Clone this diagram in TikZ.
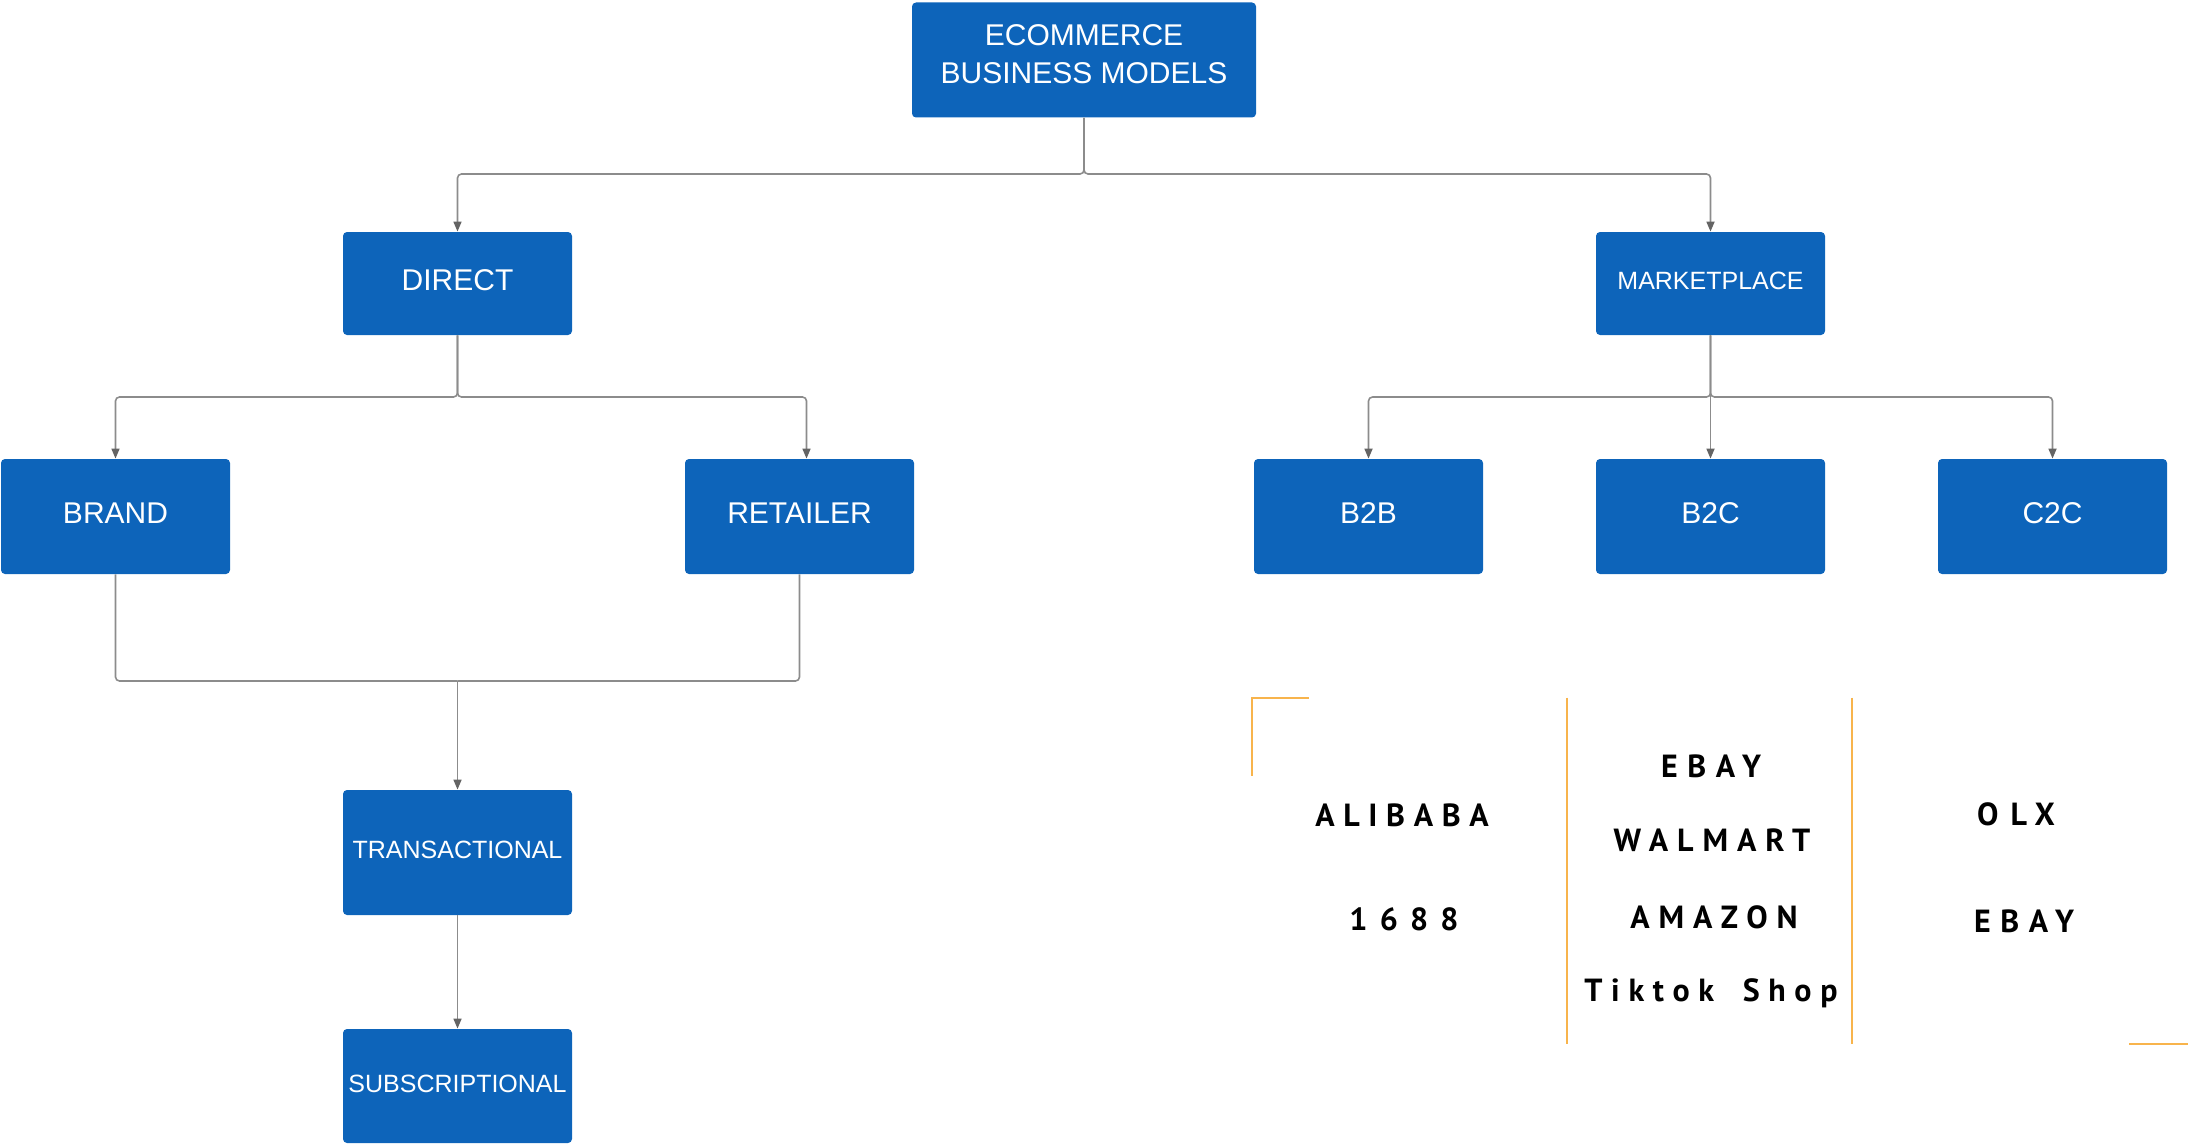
\documentclass[tikz,border=0pt]{standalone}
\usepackage{fontspec}
\setmainfont{Liberation Sans}
\newfontfamily\brandfont{PT Sans}
\usetikzlibrary{arrows.meta}
\definecolor{boxblue}{RGB}{13,100,186}
\definecolor{connGray}{RGB}{140,140,140}
\definecolor{tipGray}{RGB}{100,100,100}
\definecolor{lineOrange}{RGB}{248,180,76}
\newcommand{\ls}[2]{{\addfontfeature{LetterSpace=#1}#2}}
\tikzset{
  bluebox/.style={draw=none, fill=boxblue, rounded corners=2pt, text=white, inner sep=0pt,
    minimum width=114.5pt, align=center},
  bigtxt/.style={font=\fontsize{15}{19}\selectfont, text depth=3pt},
  smalltxt/.style={font=\fontsize{12.5}{15}\selectfont, text depth=2.6pt},
  conn/.style={draw=connGray, line width=0.8pt, rounded corners=2pt},
  arr/.style={-{Triangle[length=5pt,width=4pt,fill=tipGray,color=tipGray]}},
  orangeline/.style={draw=lineOrange, line width=1pt},
  brandtxt/.style={anchor=base, font=\brandfont\bfseries\fontsize{16}{19}\selectfont, text=black, inner sep=0pt}
}
\begin{document}
\begin{tikzpicture}[x=0.5pt, y=-0.5pt]
\useasboundingbox (0,0) rectangle (2188,1145);
% boxes
\node[bluebox, bigtxt, text depth=5.5pt, minimum width=172pt, minimum height=57.5pt] (top) at (1084,60) {ECOMMERCE\\BUSINESS MODELS};
\node[bluebox, bigtxt, minimum height=51.5pt] (direct) at (457.5,283.5) {DIRECT};
\node[bluebox, smalltxt, minimum height=51.5pt] (market) at (1710.5,283.5) {MARKETPLACE};
\node[bluebox, bigtxt, minimum height=57.5pt] (brand) at (115.5,516.5) {BRAND};
\node[bluebox, bigtxt, minimum height=57.5pt] (retailer) at (799.5,516.5) {RETAILER};
\node[bluebox, bigtxt, minimum height=57.5pt] (b2b) at (1368.5,516.5) {B2B};
\node[bluebox, bigtxt, minimum height=57.5pt] (b2c) at (1710.5,516.5) {B2C};
\node[bluebox, bigtxt, minimum height=57.5pt] (c2c) at (2052.5,516.5) {C2C};
\node[bluebox, smalltxt, minimum height=62.5pt] (trans) at (457.5,852.5) {TRANSACTIONAL};
\node[bluebox, smalltxt, minimum height=57pt] (subs) at (457.5,1086) {SUBSCRIPTIONAL};
% junction coordinates
\coordinate (j1) at (1084,174);
\coordinate (j2) at (457.5,397);
\coordinate (j3) at (1710.5,397);
\coordinate (j4) at (457.5,681);
% connectors
\draw[conn, arr] (top.south) -- (j1) -| (direct.north);
\draw[conn, arr] (top.south) -- (j1) -| (market.north);
\draw[conn, arr] (direct.south) -- (j2) -| (brand.north);
\draw[conn, arr] (direct.south) -- (j2) -| ([xshift=3.5pt]retailer.north);
\draw[conn, arr] (market.south) -- (j3) -| (b2b.north);
\draw[conn, arr] (market.south) -- (b2c.north);
\draw[conn, arr] (market.south) -- (j3) -| (c2c.north);
\draw[conn] (brand.south) |- (j4);
\draw[conn] (retailer.south) |- (j4);
\draw[conn, arr] (j4) -- (trans.north);
\draw[conn, arr] (trans.south) -- (subs.north);
% orange lines
\coordinate (o1) at (1309,697.7);
\coordinate (o2) at (1251.7,697.7);
\coordinate (o3) at (1251.7,775.8);
\draw[orangeline] (o1) -- (o2) -- (o3);
\coordinate (v1a) at (1567,697.7);
\coordinate (v1b) at (1567,1044);
\draw[orangeline] (v1a) -- (v1b);
\coordinate (v2a) at (1852,697.7);
\coordinate (v2b) at (1852,1044);
\draw[orangeline] (v2a) -- (v2b);
\coordinate (h1a) at (2129,1044);
\coordinate (h1b) at (2188,1044);
\draw[orangeline] (h1a) -- (h1b);
% brand texts
\node[brandtxt] (alibaba) at (1402,826) {\ls{27}{ALIBABA}};
\node[brandtxt] (n1688) at (1404,930) {\ls{38}{1688}};
\node[brandtxt] (ebay1) at (1711,777) {\ls{30}{EBAY}};
\node[brandtxt] (walmart) at (1712,851) {\ls{28}{WALMART}};
\node[brandtxt] (amazon) at (1714,928) {\ls{28}{AMAZON}};
\node[brandtxt] (tiktok) at (1711,1001.5) {\ls{27}{Tiktok\hspace{6pt} Shop}};
\node[brandtxt] (olx) at (2016,825) {\ls{38}{OLX}};
\node[brandtxt] (ebay2) at (2024,932) {\ls{30}{EBAY}};
\end{tikzpicture}
\end{document}
